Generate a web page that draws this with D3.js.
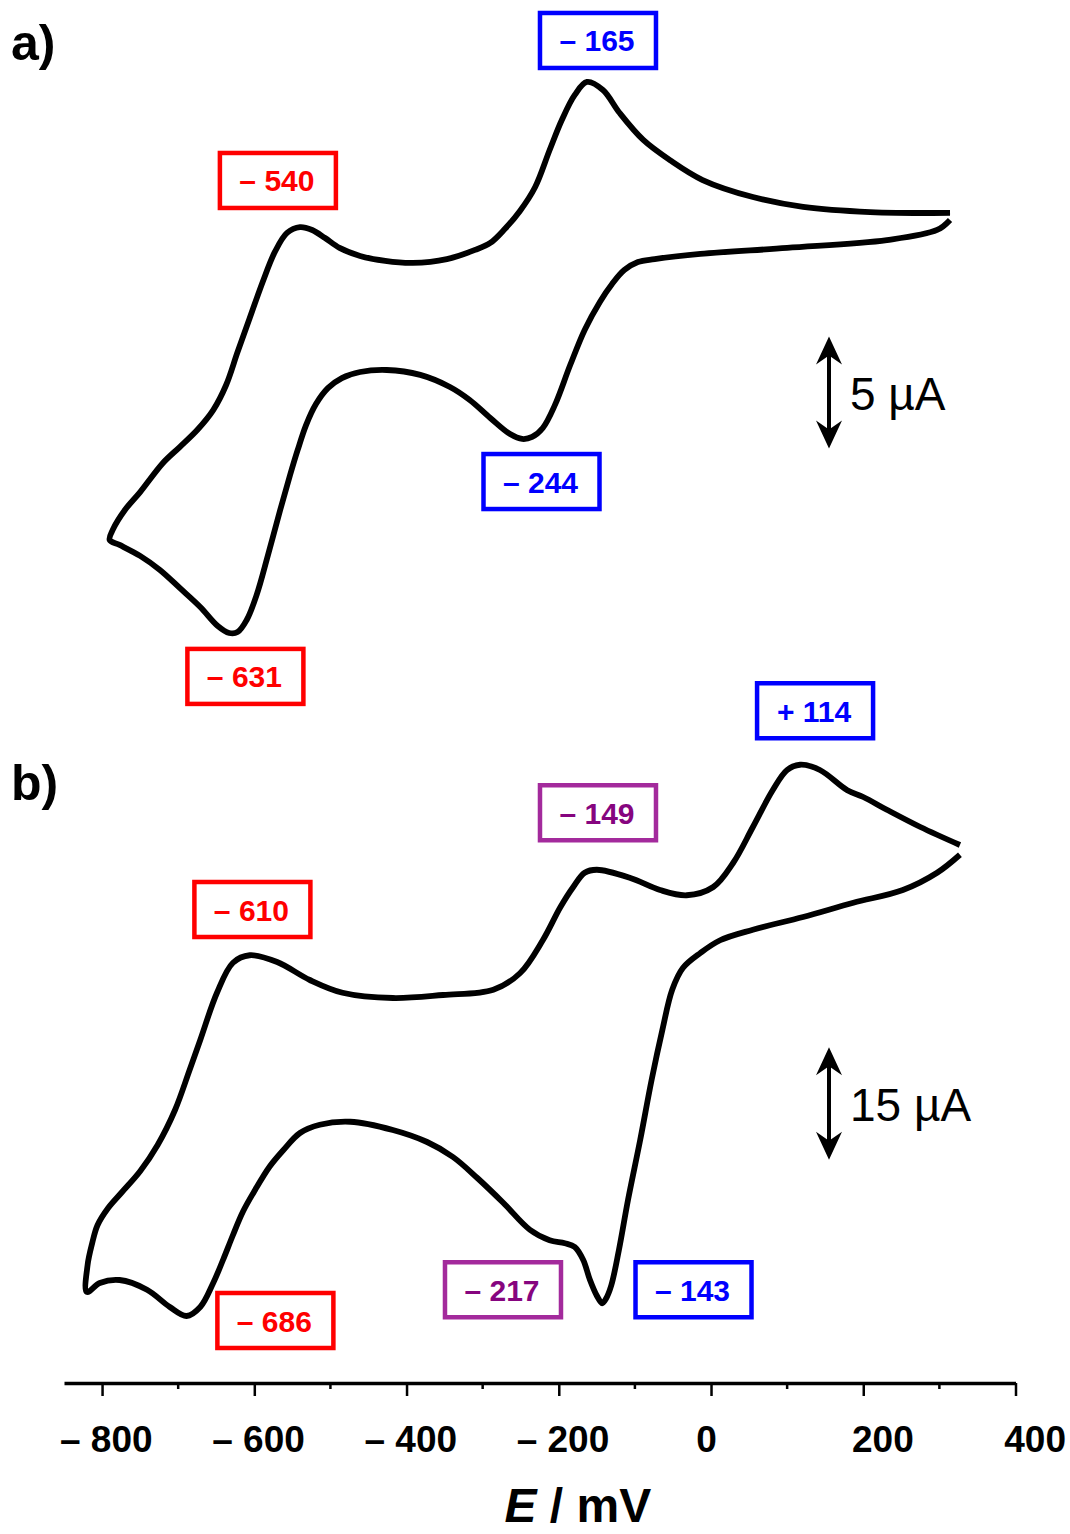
<!DOCTYPE html>
<html>
<head>
<meta charset="utf-8">
<script src="https://cdn.jsdelivr.net/npm/d3@7"></script>
<style>
body { margin: 0; background: #fff; }
svg text { font-family: Arial, "Liberation Sans", sans-serif; }
</style>
</head>
<body>
<div id="chart"></div>
<script>
// potentials E in mV, currents in µA
var cvA_forward = [[-790,-6.25],[-786,-5.80],[-770,-4.91],[-750,-4.11],[-720,-2.81],[-698,-2.10],
  [-675,-1.34],[-654,-0.45],[-637,0.67],[-622,2.14],[-606,3.66],[-589,5.27],[-573,6.61],[-557,7.46],
  [-540,7.72],[-524,7.59],[-507,7.23],[-488,6.79],[-461,6.43],[-428,6.21],[-392,6.12],[-347,6.29],
  [-310,6.70],[-290,7.01],[-271,7.63],[-251,8.44],[-231,9.51],[-212,11.16],[-196,12.50],[-179,13.62],
  [-163,14.20],[-142,13.84],[-120,12.81],[-89,11.61],[-54,10.71],[-11,9.82],[55,9.06],[121,8.62],
  [209,8.39],[314,8.35]];

var cvA_reverse = [[314,8.04],[297,7.59],[231,7.14],[100,6.79],[-14,6.52],[-74,6.29],[-96,6.16],
  [-114,5.80],[-130,5.18],[-146,4.38],[-166,3.13],[-185,1.56],[-205,-0.22],[-221,-1.25],[-235,-1.65],
  [-248,-1.74],[-264,-1.52],[-290,-0.80],[-317,0],[-343,0.58],[-382,1.12],[-426,1.34],[-461,1.25],
  [-485,0.98],[-503,0.54],[-519,-0.18],[-532,-1.12],[-543,-2.23],[-553,-3.35],[-566,-4.91],
  [-582,-6.92],[-597,-8.71],[-610,-9.82],[-622,-10.36],[-633,-10.40],[-648,-10.09],[-671,-9.24],
  [-698,-8.39],[-724,-7.59],[-750,-6.96],[-777,-6.47],[-790,-6.25]];

var cvB_forward = [[-820,-25.6],[-819,-22.0],[-813,-19.1],[-806,-16.7],[-792,-14.4],[-774,-12.3],
  [-750,-9.5],[-727,-6.0],[-704,-1.3],[-685,4.0],[-671,8.0],[-649,14.3],[-628,18.3],[-606,19.3],
  [-570,18.4],[-527,16.0],[-484,14.3],[-418,13.6],[-352,14.0],[-286,14.7],[-251,16.9],[-221,21.3],
  [-198,25.7],[-181,28.4],[-166,30.3],[-150,30.7],[-106,29.6],[-67,28.0],[-32,27.3],[3,28.4],
  [29,31.6],[55,36.4],[81,41.3],[100,44.0],[117,44.7],[143,44.0],[179,41.3],[200,40.4],[231,38.7],
  [275,36.4],[327,34.0]];

var cvB_reverse = [[327,32.7],[297,30.3],[252,28.0],[187,26.3],[121,24.4],[55,22.7],[12,21.3],
  [-14,19.6],[-37,17.6],[-51,14.7],[-64,9.3],[-78,2.7],[-93,-5.3],[-109,-13.3],[-121,-20.0],
  [-131,-24.7],[-138,-26.5],[-143,-27.1],[-150,-26.1],[-159,-24.0],[-168,-21.3],[-179,-19.6],
  [-192,-19.1],[-212,-18.7],[-238,-17.3],[-273,-13.7],[-307,-10.4],[-339,-7.6],[-373,-5.6],
  [-418,-4.0],[-474,-2.9],[-514,-3.3],[-540,-4.4],[-562,-6.7],[-580,-8.9],[-599,-12.0],
  [-615,-14.9],[-628,-18.0],[-641,-21.3],[-654,-24.4],[-671,-27.6],[-689,-28.8],[-711,-27.6],
  [-741,-25.3],[-777,-24.0],[-803,-24.4],[-820,-25.6]];

// peak potentials written in the boxes (mV)
var peaksA = [-165, -540, -244, -631];
var peaksB = [-610, -149, 114, -686, -217, -143];

// scale bar sizes (µA)
var barA = 5;
var barB = 15;

var xTicks = [-800, -600, -400, -200, 0, 200, 400];
var xMinor = [-700, -500, -300, -100, 100, 300];

// ---- layout ----
var width = 1070, height = 1534;
var red = "#ff0000", blue = "#0000ff", purpleLine = "#a32a9c", purpleText = "#86057f";

// box centres in data units of each panel, with colours
var boxesA = [
  {pos: [-148.5, 16.05], line: blue, text: blue},
  {pos: [-569, 9.80], line: red, text: red},
  {pos: [-222.7, -3.64], line: blue, text: blue},
  {pos: [-611.7, -12.34], line: red, text: red}
];
var boxesB = [
  {pos: [-602.5, 25.4], line: red, text: red},
  {pos: [-148.5, 38.3], line: purpleLine, text: purpleText},
  {pos: [136.7, 51.9], line: blue, text: blue},
  {pos: [-572.3, -29.4], line: red, text: red},
  {pos: [-273.3, -25.3], line: purpleLine, text: purpleText},
  {pos: [-23, -25.3], line: blue, text: blue}
];

var svg = d3.select("#chart").append("svg")
  .attr("width", width)
  .attr("height", height);

var x = d3.scaleLinear().domain([-850, 400]).range([64, 1015.5]);
var yA = d3.scaleLinear().domain([-10, 15]).range([624, 64]);
var yB = d3.scaleLinear().domain([-30, 50]).range([1325, 725]);

function fmt(v) {
  return (v < 0 ? "\u2013 " : "+ ") + Math.abs(v);
}

function drawPanel(fwd, rev, y, peaks, boxes, bar, barCentre, letter, letterY) {
  var line = d3.line()
    .x(function (d) { return x(d[0]); })
    .y(function (d) { return y(d[1]); })
    .curve(d3.curveCatmullRom.alpha(0.5));

  var g = svg.append("g");

  // reverse sweep runs into the left vertex, forward sweep leaves it
  g.append("path")
    .attr("d", line(rev.concat(fwd.slice(1))))
    .attr("fill", "none")
    .attr("stroke", "#000")
    .attr("stroke-width", 5.8)
    .attr("stroke-linejoin", "round");

  // peak boxes
  var bw = 116, bh = 55;
  var b = g.selectAll(".box").data(peaks).enter().append("g")
    .attr("class", "box")
    .attr("transform", function (d, i) {
      return "translate(" + x(boxes[i].pos[0]) + "," + y(boxes[i].pos[1]) + ")";
    });
  b.append("rect")
    .attr("x", -bw / 2).attr("y", -bh / 2)
    .attr("width", bw).attr("height", bh)
    .attr("fill", "none")
    .attr("stroke", function (d, i) { return boxes[i].line; })
    .attr("stroke-width", 4.5);
  b.append("text")
    .attr("text-anchor", "middle")
    .attr("y", 11)
    .attr("x", -1)
    .style("font-size", "30px")
    .style("font-weight", "bold")
    .attr("fill", function (d, i) { return boxes[i].text; })
    .text(fmt);

  // current scale bar
  var bx = 829;
  var y0 = y(barCentre - bar / 2), y1 = y(barCentre + bar / 2);
  g.append("line")
    .attr("x1", bx).attr("x2", bx)
    .attr("y1", y1 + 10).attr("y2", y0 - 10)
    .attr("stroke", "#000").attr("stroke-width", 4);
  var head = "M0,0 L13,28 L0,19 L-13,28 Z";
  g.append("path").attr("d", head)
    .attr("transform", "translate(" + bx + "," + y1 + ")");
  g.append("path").attr("d", head)
    .attr("transform", "translate(" + bx + "," + y0 + ") scale(1,-1)");
  g.append("text")
    .attr("x", 850)
    .attr("y", (y0 + y1) / 2 + 17)
    .style("font-size", "46px")
    .text(bar + " \u00b5A");

  svg.append("text")
    .attr("x", 11).attr("y", letterY)
    .style("font-size", "50px")
    .style("font-weight", "bold")
    .text(letter);
}

drawPanel(cvA_forward, cvA_reverse, yA, peaksA, boxesA, barA, 0.33, "a)", 60);
drawPanel(cvB_forward, cvB_reverse, yB, peaksB, boxesB, barB, -0.47, "b)", 800);

// x axis
var axisY = 1383;
var xAxis = d3.axisBottom(x)
  .tickValues(xTicks)
  .tickSize(13)
  .tickSizeOuter(0)
  .tickPadding(0)
  .tickFormat(function (d) { return d < 0 ? "\u2013 " + (-d) : d; });

var ax = svg.append("g")
  .attr("transform", "translate(0," + axisY + ")")
  .call(xAxis);
ax.select(".domain").attr("stroke-width", 3.5);
ax.selectAll(".tick line").attr("stroke-width", 2.5);
ax.selectAll(".tick text")
  .attr("y", 69)
  .attr("dy", null)
  .attr("text-anchor", function (d) { return d === 0 ? "middle" : "end"; })
  .attr("x", function (d) { return d === 0 ? -5 : 50; })
  .style("font-size", "37px")
  .style("font-weight", "bold")
  .style("font-family", "Arial, 'Liberation Sans', sans-serif")
  .attr("fill", "#000");

ax.selectAll(".minor").data(xMinor).enter().append("line")
  .attr("class", "minor")
  .attr("x1", function (d) { return x(d); })
  .attr("x2", function (d) { return x(d); })
  .attr("y1", 0).attr("y2", 6)
  .attr("stroke", "#000").attr("stroke-width", 2.5);

var title = svg.append("text")
  .attr("x", x(-175))
  .attr("y", 1522)
  .attr("text-anchor", "middle")
  .style("font-size", "48px")
  .style("font-weight", "bold");
title.append("tspan").style("font-style", "italic").text("E");
title.append("tspan").text(" / mV");
</script>
</body>
</html>
